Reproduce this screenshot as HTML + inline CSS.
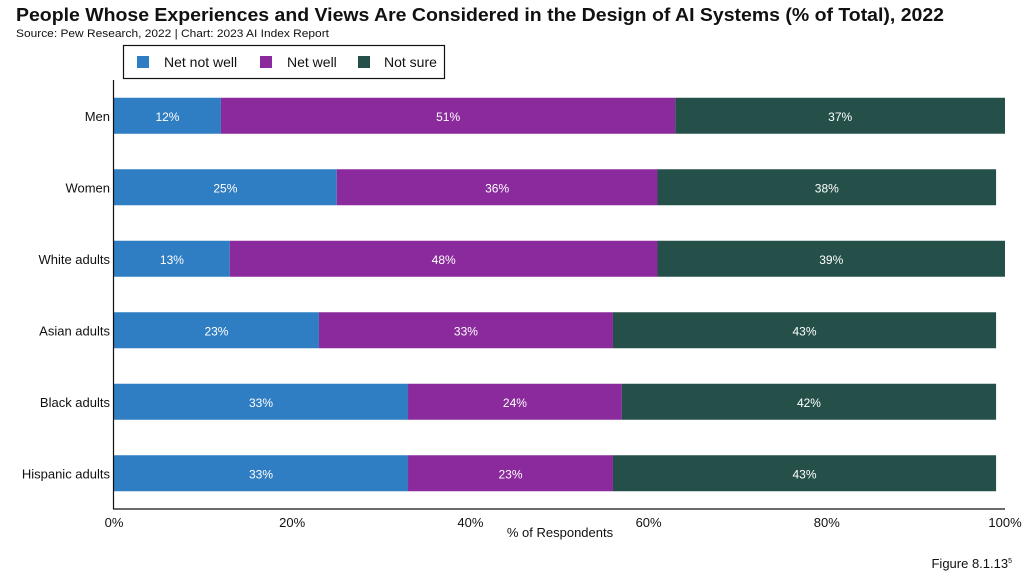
<!DOCTYPE html>
<html><head><meta charset="utf-8"><style>
body{margin:0;background:#fff;font-family:"Liberation Sans",sans-serif;}
</style></head><body>
<svg width="1032" height="580" xmlns="http://www.w3.org/2000/svg" font-family="Liberation Sans, sans-serif">
<text x="16" y="21" font-size="18.5" font-weight="bold" fill="#111" textLength="928" lengthAdjust="spacingAndGlyphs">People Whose Experiences and Views Are Considered in the Design of AI Systems (% of Total), 2022</text>
<text x="16" y="37" font-size="11" fill="#111" textLength="313" lengthAdjust="spacingAndGlyphs">Source: Pew Research, 2022 | Chart: 2023 AI Index Report</text>
<g>
<rect x="123.5" y="45.5" width="321" height="33" fill="#fff" stroke="#111" stroke-width="1.2"/>
<rect x="137" y="56" width="12" height="12" fill="#2f7dc2"/>
<text x="164" y="67" font-size="14" fill="#111">Net not well</text>
<rect x="260" y="56" width="12" height="12" fill="#8a2a9c"/>
<text x="287" y="67" font-size="14" fill="#111">Net well</text>
<rect x="358" y="56" width="12" height="12" fill="#25504a"/>
<text x="384" y="67" font-size="14" fill="#111">Not sure</text>
</g>
<g id="plot"></g>
<text x="560" y="537" font-size="13" fill="#111" text-anchor="middle">% of Respondents</text>
<text x="1012" y="568" font-size="13" fill="#111" text-anchor="end">Figure 8.1.13<tspan font-size="7" dy="-5">5</tspan></text>
</svg>
<script>
const categories=["Men","Women","White adults","Asian adults","Black adults","Hispanic adults"];
const netNotWell=[12,25,13,23,33,33];
const netWell=[51,36,48,33,24,23];
const notSure=[37,38,39,43,42,43];
const ticks=[0,20,40,60,80,100];
const NS="http://www.w3.org/2000/svg";
const g=document.getElementById('plot');
const x0=114,x1=1005,yTop=80,yBot=509;
const xs=v=>x0+(x1-x0)*v/100;
const band=(yBot-yTop)/categories.length;
const yc=i=>yTop+band*(i+0.5);
const bh=36;
function mk(t,a){const e=document.createElementNS(NS,t);for(const k in a)e.setAttribute(k,a[k]);g.appendChild(e);return e;}
const series=[[netNotWell,"#2f7dc2","net-not-well"],[netWell,"#8a2a9c","net-well"],[notSure,"#25504a","not-sure"]];
categories.forEach((c,i)=>{
  const lab=mk('text',{x:x0-4,y:yc(i)+5,'font-size':13,'text-anchor':'end',fill:'#111'});
  lab.textContent=c;
  
  
  let acc=0;
  series.forEach(([arr,col,nm])=>{
    const v=arr[i];
    const r=mk('rect',{x:xs(acc),y:yc(i)-bh/2,width:xs(acc+v)-xs(acc),height:bh,fill:col});
    
    
    const t=mk('text',{x:(xs(acc)+xs(acc+v))/2,y:yc(i)+5,'font-size':12,'text-anchor':'middle',fill:'#fff'});
    t.textContent=v+'%';
    
    
    acc+=v;
  });
});
const ya=mk('line',{x1:x0-0.5,x2:x0-0.5,y1:yTop,y2:yBot,stroke:'#111','stroke-width':1.2});


const xa=mk('line',{x1:x0-1,x2:x1,y1:yBot,y2:yBot,stroke:'#111','stroke-width':1.2});


ticks.forEach(tv=>{
  const t=mk('text',{x:xs(tv),y:527,'font-size':13,'text-anchor':'middle',fill:'#111'});
  t.textContent=tv+'%';
  
  
});
</script>
</body></html>
